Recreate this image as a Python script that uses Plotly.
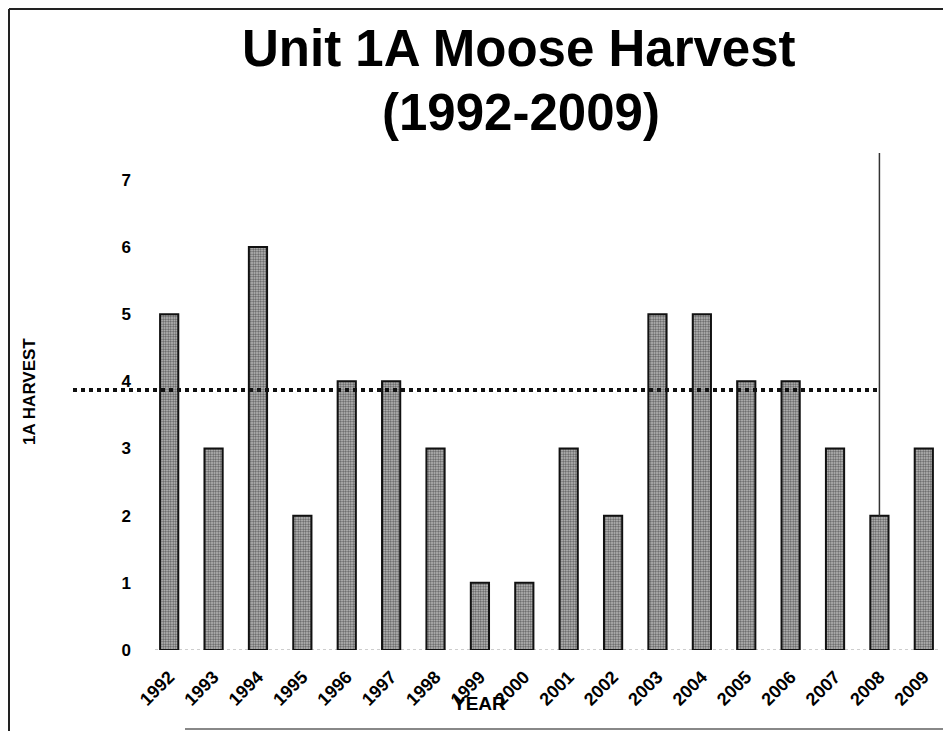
import plotly.graph_objects as go

# ---- data ----
years = ["1992", "1993", "1994", "1995", "1996", "1997", "1998", "1999", "2000",
         "2001", "2002", "2003", "2004", "2005", "2006", "2007", "2008", "2009"]
harvest = [5, 3, 6, 2, 4, 4, 3, 1, 1, 3, 2, 5, 5, 4, 4, 3, 2, 3]
y_ticks = [0, 1, 2, 3, 4, 5, 6, 7]
ref_level = 3.87          # dotted reference line
ref_end_year = "2008"     # dotted line / vertical marker year
Y_MAX = 7.4

title_line1 = "Unit 1A Moose Harvest"
title_line2 = "(1992-2009)"
y_title = "1A HARVEST"
x_title = "YEAR"

# page has an 8px body margin: target picture px -> figure px = p - 8
OFF = 8
W, H = 951 - OFF, 731 - OFF
PLOT_L, PLOT_R, PLOT_T, PLOT_B = 147, 946, 153, 650   # in picture px
ML, MR, MT = PLOT_L - OFF, W - (PLOT_R - OFF), PLOT_T - OFF
MB = H - (PLOT_B - OFF)
PW, PH = W - ML - MR, H - MT - MB


def px_x(px):
    return (px - OFF - ML) / PW


def px_y(py):
    return (H - MB - (py - OFF)) / PH


FONT = "Liberation Sans, Arial, sans-serif"

fig = go.Figure()
fig.add_trace(go.Bar(
    x=years, y=harvest,
    marker=dict(
        color="#9a9a9a",
        line=dict(color="#111111", width=2),
        pattern=dict(shape=".", bgcolor="#c8c8c8", fgcolor="#5a5a5a",
                     size=2.5, solidity=0.5, fillmode="replace"),
    ),
    showlegend=False,
))

n = len(years)
idx_end = years.index(ref_end_year)

shapes = [
    # baseline (faint dotted)
    dict(type="line", xref="paper", yref="y", x0=0.01, x1=0.99, y0=0, y1=0,
         line=dict(color="#9a9a9a", width=1, dash="dot"), layer="below"),
    # dotted reference line
    dict(type="line", xref="paper", yref="y", x0=px_x(73), x1=(idx_end + 0.5) / n,
         y0=ref_level, y1=ref_level,
         line=dict(color="#111111", width=4, dash="4px,4px")),
    # vertical marker line (category index on x)
    dict(type="line", xref="x", yref="y", x0=idx_end, x1=idx_end,
         y0=harvest[idx_end], y1=Y_MAX,
         line=dict(color="#333333", width=1.5)),
    # page border: left and top
    dict(type="line", xref="paper", yref="paper", x0=px_x(9), x1=px_x(9),
         y0=px_y(9), y1=px_y(731), line=dict(color="#222222", width=2)),
    dict(type="line", xref="paper", yref="paper", x0=px_x(9), x1=px_x(951),
         y0=px_y(9), y1=px_y(9), line=dict(color="#222222", width=2)),
    # faint bottom edge
    dict(type="line", xref="paper", yref="paper", x0=px_x(185), x1=px_x(951),
         y0=px_y(729), y1=px_y(729), line=dict(color="#888888", width=2)),
]

annotations = [
    dict(text=f"<b>{title_line1}</b>", xref="paper", yref="paper",
         x=px_x(519), y=px_y(48), xanchor="center", yanchor="middle",
         showarrow=False, font=dict(family=FONT, size=51, color="#000000")),
    dict(text=f"<b>{title_line2}</b>", xref="paper", yref="paper",
         x=px_x(521), y=px_y(113), xanchor="center", yanchor="middle",
         showarrow=False, font=dict(family=FONT, size=51, color="#000000")),
    dict(text=f"<b>{y_title}</b>", xref="paper", yref="paper",
         x=px_x(29), y=px_y(392), xanchor="center", yanchor="middle",
         textangle=-90, showarrow=False,
         font=dict(family=FONT, size=17, color="#000000")),
    dict(text=f"<b>{x_title}</b>", xref="paper", yref="paper",
         x=px_x(479), y=px_y(703), xanchor="center", yanchor="middle",
         showarrow=False, font=dict(family=FONT, size=19, color="#000000")),
]

fig.update_layout(
    width=W, height=H,
    margin=dict(l=ML, r=MR, t=MT, b=MB, pad=0),
    paper_bgcolor="white", plot_bgcolor="white",
    bargap=0.59,
    shapes=shapes, annotations=annotations,
    font=dict(family=FONT, color="#000000"),
    xaxis=dict(type="category", range=[-0.5, n - 0.5], tickangle=-45,
               showgrid=False, zeroline=False,
               showline=False, ticks="", ticklabelstandoff=12,
               tickfont=dict(family=FONT, size=18, weight="bold", color="#000000")),
    yaxis=dict(range=[0, Y_MAX], tickvals=y_ticks, showgrid=False, zeroline=False,
               showline=False, ticks="", ticklabelstandoff=15,
               tickfont=dict(family=FONT, size=17, weight="bold", color="#000000")),
)

fig.write_html("out.html")
